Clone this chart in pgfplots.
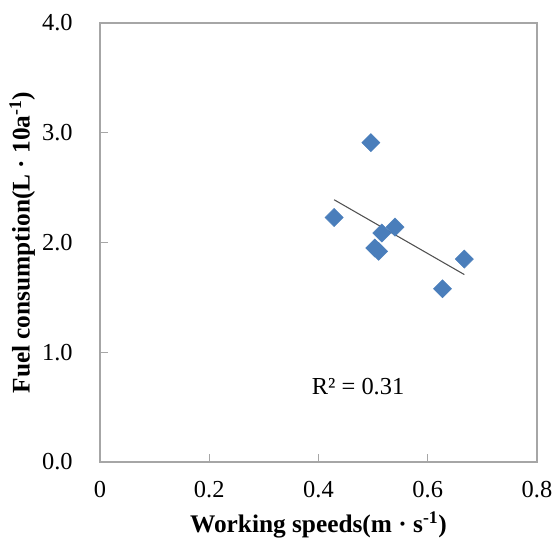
\documentclass[border=0pt]{standalone}
\usepackage{pgfplots}
\usepackage{pgfplotstable}
\pgfplotsset{compat=1.18}
\usepackage{fontspec}
\setmainfont{Liberation Serif}
\definecolor{frame}{HTML}{A6A6A6}
\definecolor{pts}{HTML}{4A7EBB}
\definecolor{trend}{HTML}{505050}

\pgfplotstableread{
x      y
0.4958 2.91
0.4286 2.228
0.540  2.14
0.516  2.086
0.503  1.95
0.510  1.92
0.667  1.849
0.627  1.578
}\fuel

\begin{document}
\begin{tikzpicture}
\useasboundingbox (-75pt,-60.5pt) rectangle (340.5pt,346.5pt);
\begin{axis}[
  at={(0,0)}, anchor=south west,
  scale only axis, width=327.75pt, height=329.25pt,
  xmin=0, xmax=0.8, ymin=0, ymax=4,
  xtick={0,0.2,0.4,0.6,0.8}, ytick={0,1,2,3,4},
  axis line style={frame, line width=0.9pt},
  tick style={frame, line width=0.9pt},
  major tick length=6pt, tick align=inside,
  xtick pos=bottom, ytick pos=left,
  /pgf/number format/assume math mode=true,
  ticklabel style={font=\fontsize{18.3}{20}\selectfont, text=black},
  yticklabel style={/pgf/number format/.cd, fixed, fixed zerofill, precision=1, /tikz/.cd, xshift=-17pt},
  xticklabel style={yshift=-11pt},
  xlabel={\textbf{Working speeds(m · s\textsuperscript{-1})}},
  ylabel={\textbf{Fuel consumption(L · 10a\textsuperscript{-1})}},
  label style={font=\fontsize{19}{21}\selectfont},
  xlabel style={at={(axis description cs:0.5,-0.143)}, anchor=center},
  ylabel style={at={(axis description cs:-0.178,0.5)}, anchor=center},
  clip=false]
\addplot[only marks, mark=square*, mark size=4.8pt, pts, mark options={rotate=45, fill=pts, draw=pts}] table[x=x, y=y] {\fuel};
\addplot[trend, line width=0.8pt, no marks] table[x=x, y={create col/linear regression={y=y}}] {\fuel};
\node[font=\fontsize{18.3}{20}\selectfont] at (axis cs:0.4725,0.69) {R² = 0.31};
\end{axis}
\end{tikzpicture}
\end{document}
